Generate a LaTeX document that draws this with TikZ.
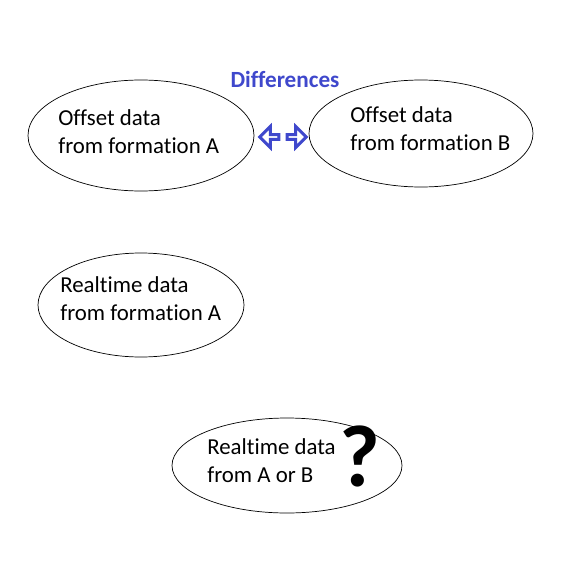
\documentclass[tikz,border=0pt]{standalone}
\usepackage{fontspec}
\setmainfont{Carlito}[Ligatures=NoCommon]
\usetikzlibrary{shapes.geometric,shapes.arrows}
\definecolor{diffblue}{HTML}{3F48CC}

\begin{document}
\begin{tikzpicture}[x=0.02cm,y=-0.02cm,
	blob/.style={ellipse,draw,thin,inner sep=0pt},
	words/.style={anchor=west,align=left,inner sep=0pt,font=\fontsize{13}{16}\selectfont},
	diffarrow/.style={single arrow,draw=diffblue,line width=1.7pt,fill=white,inner sep=0pt,
		minimum height=0.38cm,minimum width=0.42cm,single arrow head extend=0.1cm,single arrow head indent=0pt}]
\useasboundingbox (0,0) rectangle (574,561);
% ellipses
\node[blob,minimum width=226*0.02cm,minimum height=111*0.02cm]	(offA)	at (141,135.5)	{};
\node[blob,minimum width=224*0.02cm,minimum height=107*0.02cm]	(offB)	at (421,133.5)	{};
\node[blob,minimum width=206*0.02cm,minimum height=104*0.02cm]	(realA)	at (141,305)	{};
\node[blob,minimum width=230*0.02cm,minimum height=95*0.02cm]	(realAB)	at (287,465.5)	{};
% texts
\node[words]	(offAtxt)	at (58,132)	{Offset data\\from formation A};
\node[words]	(offBtxt)	at (350,129)	{Offset data\\from formation B};
\node[words]	(realAtxt)	at (60,299)	{Realtime data\\from formation A};
\node[words]	(realABtxt)	at (207,461)	{Realtime data\\from A or B};
\node[font=\fontsize{50}{50}\selectfont\bfseries]	(what)	at (360,456)	{?};
\node[font=\fontsize{13.2}{14}\selectfont\bfseries,text=diffblue]	(diff)	at (285,79)	{Differences};
% block arrows
\node[diffarrow,shape border rotate=180]	(left)	at (270.5,137)	{};
\node[diffarrow]	(right)	at (295.5,137)	{};
\end{tikzpicture}
\end{document}
